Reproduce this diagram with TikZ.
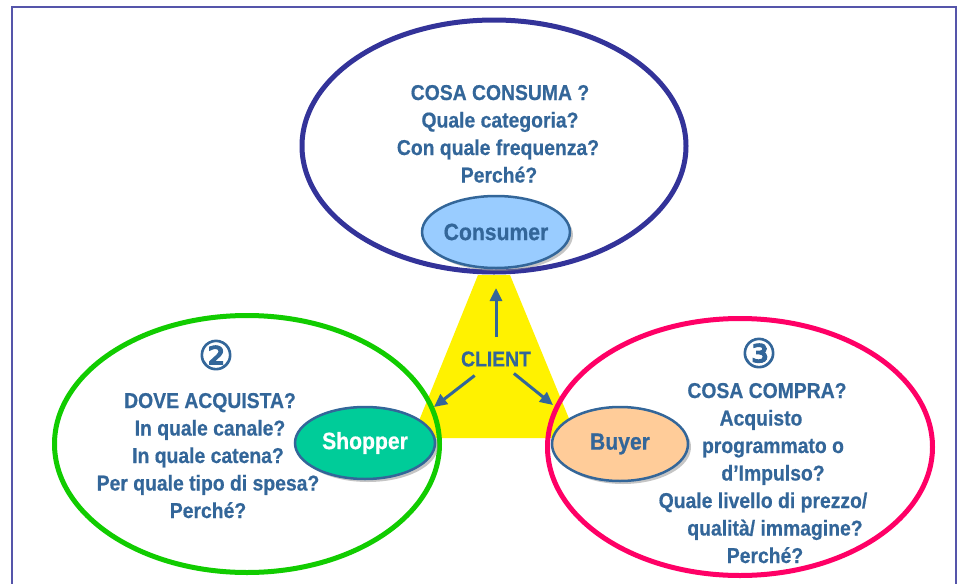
\documentclass[tikz,border=0pt]{standalone}
\usepackage{fontspec}
\setmainfont[FakeStretch=0.9,BoldFeatures={FakeBold=0.6}]{Liberation Sans}
\newfontfamily\dejavu[FakeBold=2.5]{DejaVu Sans}
\usetikzlibrary{shapes.geometric,shadows,arrows.meta}
\definecolor{txtblue}{HTML}{336699}
\definecolor{framecol}{HTML}{5555AA}
\definecolor{topblue}{HTML}{333399}
\definecolor{grn}{HTML}{11CC00}
\definecolor{pnk}{HTML}{FF0066}
\definecolor{consfill}{HTML}{99CCFF}
\definecolor{shopfill}{HTML}{00CC99}
\definecolor{buyfill}{HTML}{FFCC99}
\tikzset{
  bigell/.style={ellipse, draw, line width=5pt, inner sep=0pt},
  smallell/.style={ellipse, draw=txtblue, line width=2.5pt, inner sep=0pt,
     minimum width=140pt, minimum height=72pt,
     drop shadow={shadow xshift=3pt, shadow yshift=-3pt, fill=black!45},
     font=\fontsize{23.5}{26}\selectfont\bfseries},
  qtxt/.style={anchor=base, inner sep=0pt, text=txtblue,
     font=\fontsize{21.5}{25}\selectfont\bfseries},
  numtxt/.style={inner sep=0pt, text=txtblue, font=\dejavu\fontsize{40}{42}\selectfont},
  arr/.style={draw=txtblue, line width=3pt, -{Triangle[length=13pt,width=12pt]}}
}
\begin{document}
\begin{tikzpicture}[x=1pt,y=-1pt]
\useasboundingbox (0,0) rectangle (962,584);
% frame
\draw[framecol, line width=2pt] (12,584) -- (12,7) -- (956,7) -- (956,584);
% yellow trapezoid
\fill[yellow] (478,275) -- (510,275) -- (577,438) -- (412,438) -- cycle;
% big ellipses
\node[bigell, draw=topblue, minimum width=384pt, minimum height=252pt] (top) at (494,146) {};
\node[bigell, draw=grn, minimum width=385pt, minimum height=257pt] (left) at (247,444) {};
\node[bigell, draw=pnk, minimum width=385pt, minimum height=257pt] (right) at (740,447) {};
% top text
\node[qtxt] (t1) at (500,100) {COSA CONSUMA ?};
\node[qtxt] (t2) at (500,127.5) {Quale categoria?};
\node[qtxt] (t3) at (498,155) {Con quale frequenza?};
\node[qtxt] (t4) at (499,182.5) {Perché?};
% left text
\node[numtxt] (n2) at (216,355) {②};
\node[qtxt] (l1) at (210,408) {DOVE ACQUISTA?};
\node[qtxt] (l2) at (210,435.5) {In quale canale?};
\node[qtxt] (l3) at (208,463) {In quale catena?};
\node[qtxt] (l4) at (208,490.5) {Per quale tipo di spesa?};
\node[qtxt] (l5) at (208,518) {Perché?};
% right text
\node[numtxt] (n3) at (759,353) {③};
\node[qtxt] (r1) at (767,398) {COSA COMPRA?};
\node[qtxt] (r2) at (761,425.5) {Acquisto};
\node[qtxt] (r3) at (773,453) {programmato o};
\node[qtxt] (r4) at (773,480.5) {d’Impulso?};
\node[qtxt] (r5) at (763,508) {Quale livello di prezzo/};
\node[qtxt] (r6) at (775,535.5) {qualità/ immagine?};
\node[qtxt] (r7) at (765,563) {Perché?};
% small ellipses
\node[smallell, fill=consfill, text=txtblue] (consumer) at (496,232) {Consumer};
\node[smallell, fill=shopfill, text=white] (shopper) at (365,443) {Shopper};
\node[smallell, fill=buyfill, text=txtblue, minimum width=136pt, minimum height=74pt] (buyer) at (620,444) {Buyer};
% client
\node[inner sep=0pt, text=txtblue, font=\fontsize{21.5}{25}\selectfont\bfseries] (client) at (496,359) {CLIENT};
\coordinate (tipU) at (496,288);
\coordinate (tipL) at (434,407);
\coordinate (tipR) at (553,405);
\draw[arr, shorten <=22pt] (client.center) -- (tipU);
\draw[arr, shorten <=27pt] (client.center) -- (tipL);
\draw[arr, shorten <=23pt] (client.center) -- (tipR);
\end{tikzpicture}
\end{document}
